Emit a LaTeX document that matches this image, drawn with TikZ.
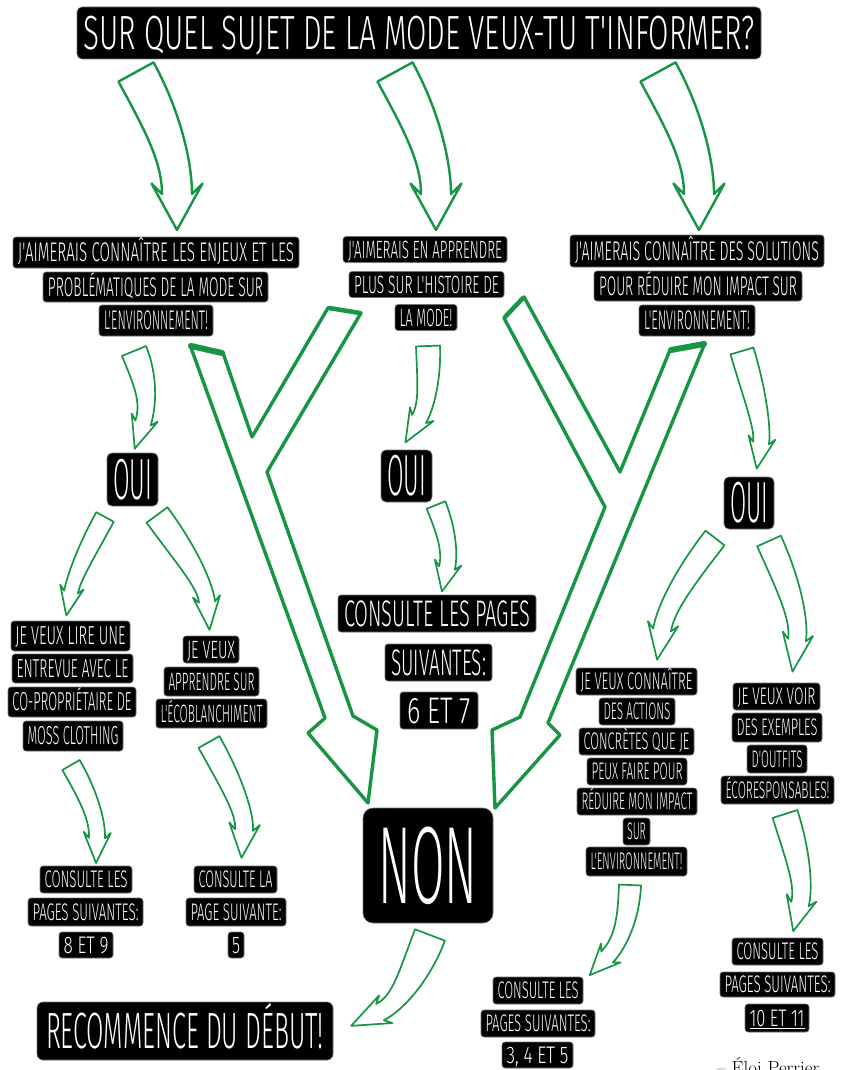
\documentclass[tikz,border=0pt]{standalone}
\usepackage{fontspec}
\usepackage{graphicx}
\usetikzlibrary{calc}
\IfFontExistsTF{FiraSans-Light.otf}%
  {\newfontfamily\hand{FiraSans-Light.otf}\def\capr{0.689}}%
  {\IfFontExistsTF{Fira Sans Light}%
     {\newfontfamily\hand{Fira Sans Light}\def\capr{0.689}}%
     {\newfontfamily\hand{Open Sans}\def\capr{0.714}}}
\definecolor{grn}{RGB}{22,150,68}
\newlength\fitl
\newcommand\fitline[2]{\settowidth\fitl{#2}\pgfmathsetmacro\fitf{#1/\fitl}\scalebox{\fitf}[1]{#2}}
\tikzset{
  lbl/.style={fill=black, draw=black!55, line width=0.6pt, text=white, inner sep=0pt},
  harr/.style={draw=grn, line width=1.7pt, line join=round, fill=white},
  toparr/.style={line width=2.4pt},
  ybig/.style={draw=grn, line width=3.4pt, line join=round, fill=white},
  ycap/.style={draw=grn, line width=6pt, line cap=round},
}
% box: [radius]{name}{cx}{cy}{w}{h}{fontsize}{textwidth}{text}
\newcommand\bx[9][3pt]{%
  \pgfmathsetmacro\capht{\capr*#7}%
  \node[lbl, rounded corners=#1, minimum width=#5pt, minimum height=#6pt,
        text height=\capht pt, text depth=0pt,
        font=\hand\fontsize{#7}{#7}\selectfont] (#2) at (#3,#4) {\fitline{#8}{#9}};}
% hollow arrow: [style]{tail}{control}{neck}{half width tail}{half width neck}{head length}
\newcommand\harrow[7][]{%
  \pgfmathsetmacro\hbb{0.7*#6}\pgfmathsetmacro\hbw{1.7*#6}%
  \coordinate (hT) at (#2); \coordinate (hC) at (#3); \coordinate (hN) at (#4);
  \coordinate (hTA) at ($(hT)!#5pt!-90:(hC)$);
  \coordinate (hTB) at ($(hT)!#5pt!90:(hC)$);
  \coordinate (hNA) at ($(hN)!#6pt!90:(hC)$);
  \coordinate (hNB) at ($(hN)!#6pt!-90:(hC)$);
  \coordinate (hc1) at ($(hT)!0.667!(hC)$);
  \coordinate (hc2) at ($(hN)!0.667!(hC)$);
  \coordinate (hc1A) at ($(hc1)+(hTA)-(hT)$);
  \coordinate (hc1B) at ($(hc1)+(hTB)-(hT)$);
  \coordinate (hc2A) at ($(hc2)+(hNA)-(hN)$);
  \coordinate (hc2B) at ($(hc2)+(hNB)-(hN)$);
  \coordinate (hNb) at ($(hN)!\hbb pt!(hC)$);
  \coordinate (hBA) at ($(hNb)!\hbw pt!90:(hC)$);
  \coordinate (hBB) at ($(hNb)!\hbw pt!-90:(hC)$);
  \coordinate (hP) at ($(hN)!#7pt!180:(hC)$);
  \draw[harr,#1] (hTA) .. controls (hc1A) and (hc2A) .. (hNA) -- (hBA) -- (hP) -- (hBB) -- (hNB)
     .. controls (hc2B) and (hc1B) .. (hTB) -- cycle;}
\begin{document}
\begin{tikzpicture}[x=1pt,y=-1pt]
\useasboundingbox (0,0) rectangle (844,1070);
\fill[white] (0,0) rectangle (844,1070);

% ---- top arrows
\harrow[toparr]{136,72}{177,147}{177,194}{20}{15}{36}
\harrow[toparr]{395,72}{436,147}{436,194}{20}{15}{36}
\harrow[toparr]{658,72}{699,147}{699,194}{20}{15}{36}

% ---- small arrows
\harrow{134,351}{152,395}{143,423}{13}{8}{27}
\harrow{428,346}{430,400}{419,419}{12}{8}{27}
\harrow{742,351}{764,425}{761,443}{12}{8}{26}
\harrow{105,517}{75,572}{71,592}{10}{7}{24}
\harrow{157,515}{205,580}{207,602}{13}{8}{28}
\harrow{436,505}{452,545}{447,568}{10}{8}{24}
\harrow{715,538}{667,600}{662,630}{12}{9}{30}
\harrow{769,541}{801,612}{797,640}{13}{9}{32}
\harrow{71,765}{98,812}{97,838}{10}{8}{25}
\harrow{209,742}{246,808}{244,830}{12}{9}{28}
\harrow{630,885}{628,935}{607,957}{11}{8}{25}
\harrow{785,814}{806,880}{800,904}{13}{9}{28}
\harrow{430,935}{405,1000}{380,1012}{16}{9}{32}

% ---- big Y arrows
\draw[ybig] (190,345) -- (325,718) -- (308,733) -- (368,803) -- (377,730) -- (353,716)
  -- (267,472) -- (361,313) -- (328,308) -- (252,437) -- (223,353) -- cycle;
\draw[ycap] (191,346) -- (222,353);
\draw[ycap, line width=4.5pt] (329,308) -- (360,313);
\draw[ybig] (504,318) -- (605,507) -- (520,717) -- (492,730) -- (495,808) -- (560,735) -- (548,723)
  -- (705,343) -- (670,350) -- (620,472) -- (524,297) -- cycle;
\draw[ycap, line width=4.5pt] (505,317) -- (523,298);
\draw[ycap] (671,350) -- (704,344);

% ---- boxes
\bx[5pt]{title}{419}{33}{684}{52}{48}{671}{SUR QUEL SUJET DE LA MODE VEUX-TU T'INFORMER?}

\bx{l1}{156}{252.5}{286}{31}{27}{276}{J'AIMERAIS CONNAÎTRE LES ENJEUX ET LES}
\bx{l2}{155.5}{287}{225}{30}{27}{215}{PROBLÉMATIQUES DE LA MODE SUR}
\bx{l3}{156}{320.5}{114}{31}{27}{104}{L'ENVIRONNEMENT!}

\bx{m1}{425}{249.5}{164}{26}{25}{154}{J'AIMERAIS EN APPRENDRE}
\bx{m2}{426.5}{284.5}{155}{26}{25}{145}{PLUS SUR L'HISTOIRE DE}
\bx{m3}{426}{317.5}{62}{26}{25}{53}{LA MODE!}

\bx{r1}{697}{251}{254}{32}{27}{244}{J'AIMERAIS CONNAÎTRE DES SOLUTIONS}
\bx{r2}{698}{286}{208}{30}{27}{198}{POUR RÉDUIRE MON IMPACT SUR}
\bx{r3}{697}{320.5}{116}{31}{27}{106}{L'ENVIRONNEMENT!}

\bx[5pt]{ouiL}{132.5}{479.5}{51}{53}{58}{39}{OUI}
\bx[5pt]{ouiM}{406.5}{476}{51}{52}{58}{39}{OUI}
\bx[5pt]{ouiR}{749}{503}{50}{52}{58}{38}{OUI}

\bx{a1}{70.5}{636}{119}{30}{26}{110}{JE VEUX LIRE UNE}
\bx{a2}{72.5}{668.5}{121}{29}{26}{112}{ENTREVUE AVEC LE}
\bx{a3}{72}{702}{128}{30}{26}{119}{CO-PROPRIÉTAIRE DE}
\bx{a4}{73}{736}{100}{30}{26}{91}{MOSS CLOTHING}

\bx{b1}{211}{649.5}{56}{27}{25}{48}{JE VEUX}
\bx{b2}{211.5}{681.5}{95}{29}{25}{86}{APPRENDRE SUR}
\bx{b3}{211.5}{713.5}{111}{29}{25}{102}{L'ÉCOBLANCHIMENT}

\bx{c1}{437}{613.5}{198}{37}{37}{186}{CONSULTE LES PAGES}
\bx{c2}{438.5}{662.5}{107}{37}{37}{95}{SUIVANTES:}
\bx{c3}{439}{710.5}{78}{37}{37}{64}{6 ET 7}

\bx{d1}{636.5}{681.5}{121}{27}{24}{112}{JE VEUX CONNAÎTRE}
\bx{d2}{637}{711.5}{76}{27}{24}{67}{DES ACTIONS}
\bx{d3}{636.5}{741.5}{115}{27}{24}{106}{CONCRÈTES QUE JE}
\bx{d4}{637}{771.5}{100}{27}{24}{91}{PEUX FAIRE POUR}
\bx{d5}{637}{801.5}{120}{27}{24}{111}{RÉDUIRE MON IMPACT}
\bx{d6}{636.5}{831.5}{27}{27}{24}{19}{SUR}
\bx{d7}{636.5}{861.5}{101}{29}{24}{92}{L'ENVIRONNEMENT!}

\bx{e1}{776.5}{696.5}{87}{27}{24}{78}{JE VEUX VOIR}
\bx{e2}{777}{727.5}{90}{29}{24}{81}{DES EXEMPLES}
\bx{e3}{777}{759}{60}{28}{24}{51}{D'OUTFITS}
\bx{e4}{777.5}{790}{113}{28}{24}{104}{ÉCORESPONSABLES!}

\bx{f1}{86}{879.5}{92}{27}{24}{83}{CONSULTE LES}
\bx{f2}{85.5}{912}{115}{28}{24}{106}{PAGES SUIVANTES:}
\bx{f3}{86}{945}{54}{26}{24}{45}{8 ET 9}

\bx{g1}{235.5}{879.5}{83}{27}{24}{74}{CONSULTE LA}
\bx{g2}{236}{912}{100}{28}{24}{91}{PAGE SUIVANTE:}
\bx{g3}{236}{945}{16}{26}{24}{8}{5}

\bx[10pt]{non}{428}{865.5}{130}{115}{110}{99}{NON}
\bx[6pt]{restart}{185}{1031}{296}{58}{51}{278}{RECOMMENCE DU DÉBUT!}

\bx{h1}{538}{990.5}{90}{27}{24}{81}{CONSULTE LES}
\bx{h2}{538}{1023.5}{114}{27}{24}{105}{PAGES SUIVANTES:}
\bx{h3}{537.5}{1055}{71}{26}{24}{62}{3, 4 ET 5}

\bx{k1}{777.5}{951.5}{91}{27}{24}{82}{CONSULTE LES}
\bx{k2}{777.5}{984.5}{115}{25}{24}{106}{PAGES SUIVANTES:}
\bx{k3}{777}{1018}{64}{28}{24}{55}{\underline{10 ET 11}}

\node[anchor=base west, inner sep=0pt, font=\fontsize{19}{20}\selectfont] (sig) at (717,1074) {– Éloi Perrier};
\end{tikzpicture}
\end{document}
